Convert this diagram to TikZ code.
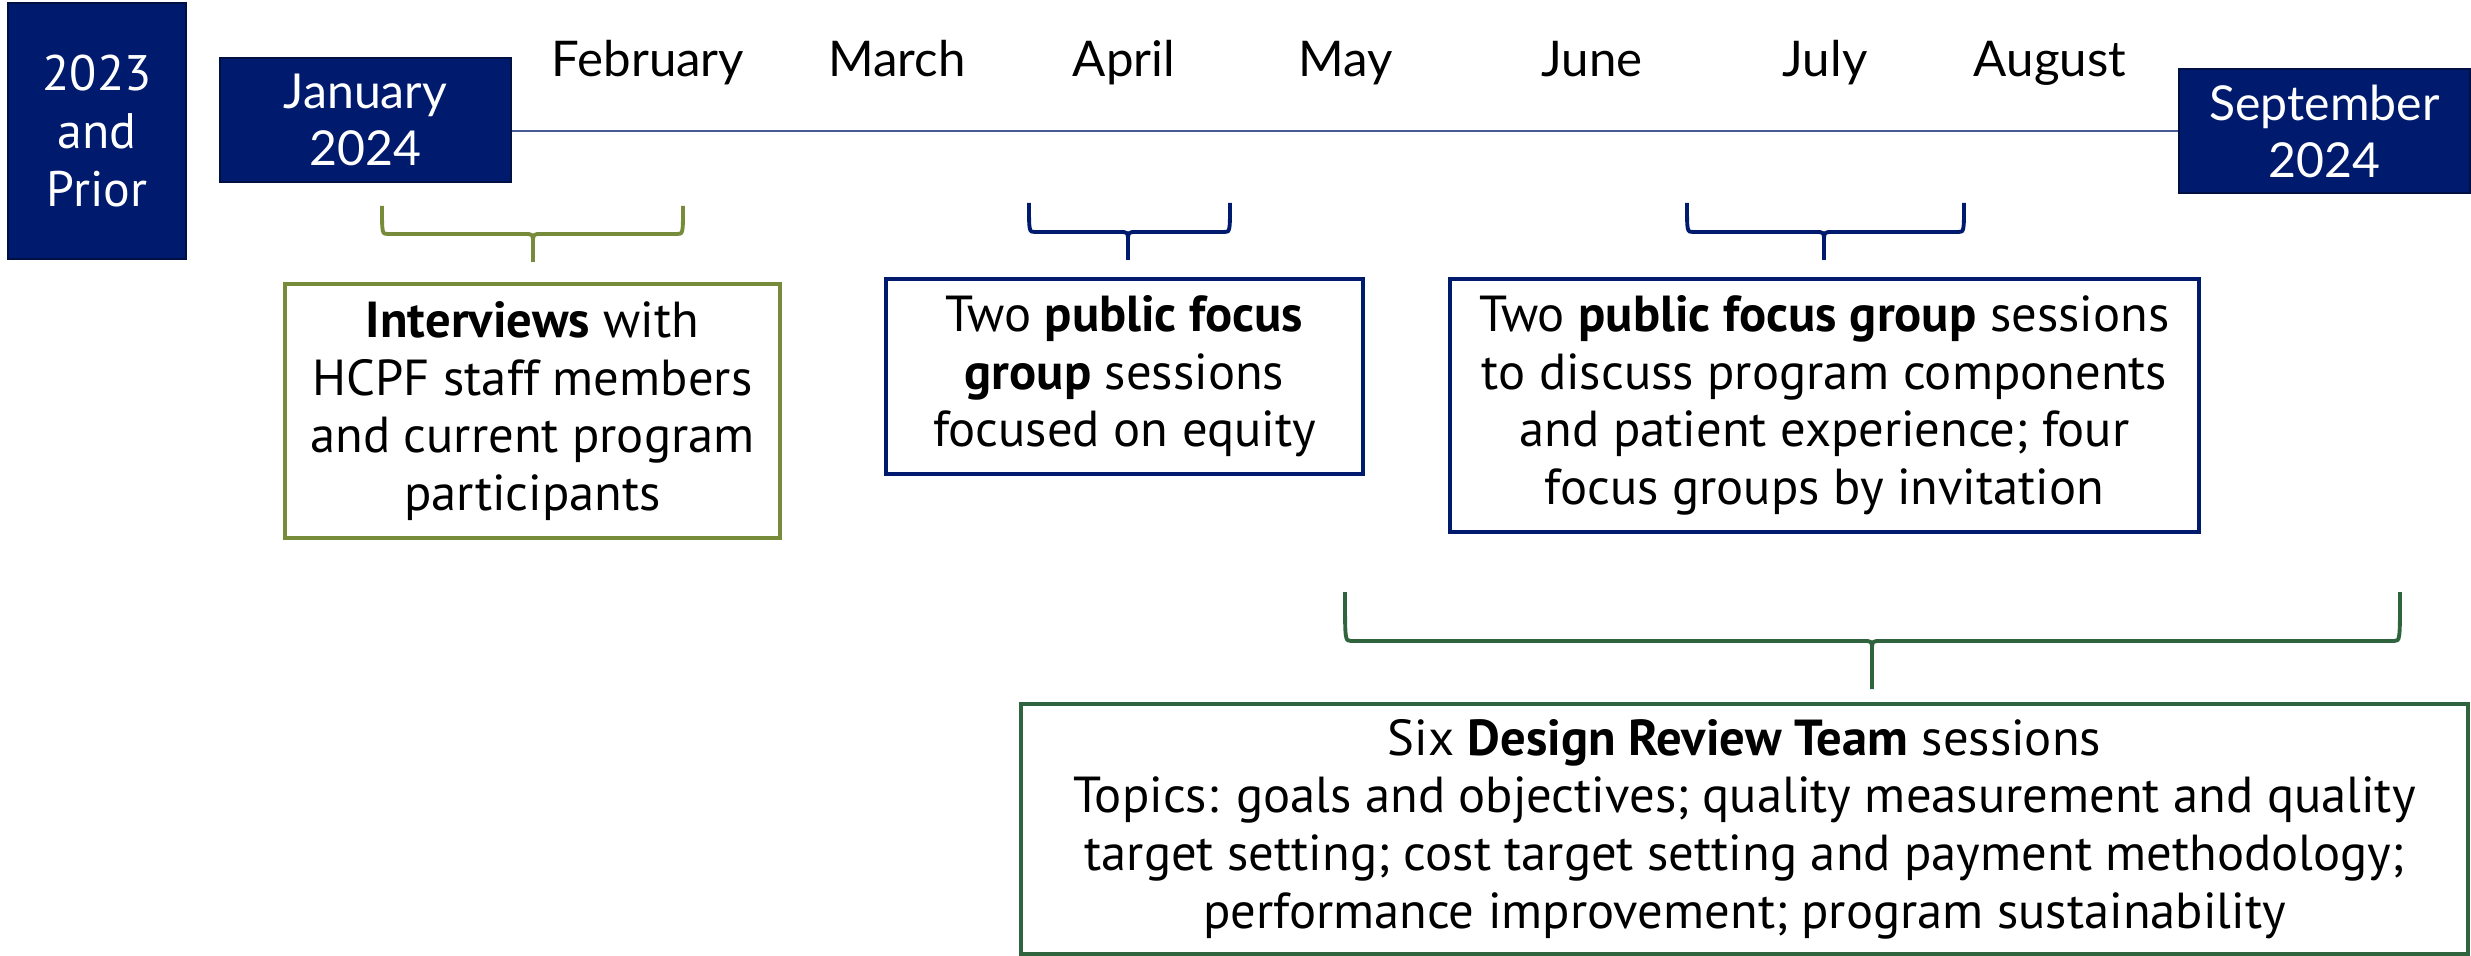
\documentclass[tikz,border=0pt]{standalone}
\usepackage{fontspec}
\setmainfont{PT Sans}
\newfontfamily\monthfont{Lato}
\usetikzlibrary{positioning}
\definecolor{navyblue}{RGB}{0,26,110}
\definecolor{linkblue}{RGB}{70,90,150}
\definecolor{olivegreen}{RGB}{119,140,58}
\definecolor{drtgreen}{RGB}{48,100,62}
\newcommand\tlbrace[7]{%
  \draw[brk,#1] (#2,#5) .. controls (#2,#6) .. (#2+0.06,#6) -- (#4-0.09,#6)
    .. controls (#4,#6) .. (#4,#6-0.09) -- (#4,#7);
  \draw[brk,#1] (#4,#6-0.09) .. controls (#4,#6) .. (#4+0.09,#6) -- (#3-0.06,#6)
    .. controls (#3,#6) .. (#3,#5);
}
\tikzset{
  yearbox/.style={fill=navyblue, draw=navyblue!60!black, line width=0.7pt, text=white,
    align=center, inner sep=0pt, font=\fontsize{14.2}{16.4}\selectfont},
  month/.style={anchor=base, font=\monthfont\fontsize{14}{16.2}\selectfont},
  infobox/.style={draw, fill=white, line width=1.1pt, align=center, inner sep=0pt,
    font=\fontsize{14.4}{16.4}\selectfont},
  brk/.style={line width=1.1pt, line join=round}
}
\begin{document}
\begin{tikzpicture}
\useasboundingbox (0,0) rectangle (24.71,-9.56);
\node[yearbox, minimum width=1.78cm, minimum height=2.56cm] (prior) at (0.97,-1.31) {2023\\and\\Prior};
\node[yearbox, minimum width=2.91cm, minimum height=1.24cm, font=\monthfont\fontsize{13.7}{16.2}\selectfont] (jan) at (3.655,-1.20) {January\\2024};
\node[yearbox, minimum width=2.91cm, minimum height=1.24cm, font=\monthfont\fontsize{13.7}{16.2}\selectfont] (sep) at (23.245,-1.31) {September\\2024};
\draw[linkblue, line width=0.6pt] (jan.east |- sep.west) -- (sep.west);
\node[month] (feb) at (6.48,-0.77) {February};
\node[month] (mar) at (8.97,-0.77) {March};
\node[month] (apr) at (11.24,-0.77) {April};
\node[month] (may) at (13.46,-0.77) {May};
\node[month] (jun) at (15.92,-0.77) {June};
\node[month] (jul) at (18.25,-0.77) {July};
\node[month] (aug) at (20.50,-0.77) {August};
\node[infobox, draw=olivegreen, minimum width=4.95cm, minimum height=2.54cm] (interviews) at (5.325,-4.11)
  {\textbf{Interviews} with\\HCPF staff members\\and current program\\participants};
\node[infobox, draw=navyblue, minimum width=4.77cm, minimum height=1.95cm] (equity) at (11.245,-3.765)
  {Two \textbf{public focus}\\\textbf{group} sessions\\focused on equity};
\node[infobox, draw=navyblue, minimum width=7.49cm, minimum height=2.53cm] (patient) at (18.245,-4.055)
  {Two \textbf{public focus group} sessions\\to discuss program components\\and patient experience; four\\focus groups by invitation};
\node[infobox, draw=drtgreen, line width=0.9pt, minimum width=14.47cm, minimum height=2.50cm] (drt) at (17.445,-8.29)
  {Six \textbf{Design Review Team} sessions\\Topics: goals and objectives; quality measurement and quality\\target setting; cost target setting and payment methodology;\\performance improvement; program sustainability};
\tlbrace{olivegreen}{3.82}{6.83}{5.33}{-2.06}{-2.34}{-2.62}
\tlbrace{navyblue}{10.29}{12.30}{11.28}{-2.03}{-2.32}{-2.60}
\tlbrace{navyblue}{16.87}{19.64}{18.24}{-2.03}{-2.32}{-2.60}
\tlbrace{drtgreen}{13.45}{24.00}{18.72}{-5.92}{-6.41}{-6.89}
\end{tikzpicture}
\end{document}
